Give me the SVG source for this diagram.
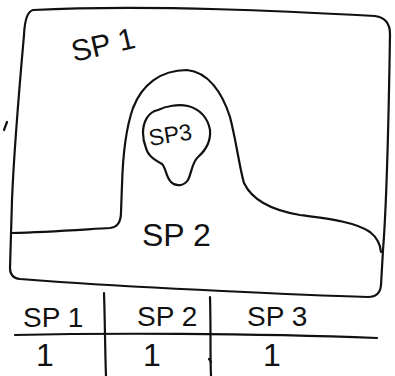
<svg xmlns="http://www.w3.org/2000/svg" width="395" height="376" viewBox="0 0 395 376">
  <style>
    .ink { fill: none; stroke: #111; stroke-width: 2.2; stroke-linecap: round; stroke-linejoin: round; }
    .hand { font-family: "Liberation Sans", "DejaVu Sans", sans-serif; fill: #111; }
  </style>
  <rect width="395" height="376" fill="#fff"/>

  <!-- outer region SP 1 -->
  <g id="sp1">
    <path class="ink" d="M 33,10 C 150,4 300,12 375,16 Q 390,18 390,34 C 389,100 387,200 383,250 L 381,285 Q 380,297 368,297 C 300,295 150,288 60,282 L 20,279 Q 10,278 10,268 L 12,200 C 14,150 20,80 24,35 Q 25,12 33,10 Z"/>
    <text class="hand" x="74" y="62" font-size="30" transform="rotate(-13 74 62)">SP 1</text>
  </g>

  <!-- mountain-shaped region SP 2 -->
  <g id="sp2">
    <path class="ink" d="M 12,233 C 50,232 90,229 110,228 Q 121,227 121,212 L 122,185 C 123,150 127,125 133,108 C 142,85 160,70 187,70 C 208,72 222,92 230,117 C 236,140 240,170 244,183 C 252,200 270,210 300,215 C 330,219 355,222 370,232 Q 380,240 381,252"/>
    <text class="hand" x="142" y="246" font-size="32">SP 2</text>
  </g>

  <!-- drop-shaped region SP 3 -->
  <g id="sp3">
    <path class="ink" d="M 143,133 C 143,122 148,112 158,110 C 166,106 178,104 188,106 C 200,109 208,118 210,130 C 211,142 206,150 198,157 C 192,162 192,172 188,180 C 184,186 176,187 171,182 C 166,177 166,168 162,164 C 155,160 148,156 146,148 C 144,143 143,138 143,133 Z"/>
    <text class="hand" x="150" y="146" font-size="23" transform="rotate(-9 150 146)">SP3</text>
  </g>

  <!-- count table -->
  <g id="table">
    <path class="ink" d="M 15,335 C 100,333 250,333 377,338"/>
    <path class="ink" d="M 104,293 C 105,320 105,350 106,376"/>
    <path class="ink" d="M 210,297 C 211,330 210,355 211,376"/>
    <path class="ink" d="M 209,359 L 211,362"/>
    <text class="hand" x="23" y="327" font-size="28">SP 1</text>
    <text class="hand" x="137" y="326" font-size="28">SP 2</text>
    <text class="hand" x="247" y="326" font-size="28">SP 3</text>
    <text class="hand" x="36" y="366" font-size="32">1</text>
    <text class="hand" x="143" y="366" font-size="32">1</text>
    <text class="hand" x="263" y="366" font-size="32">1</text>
  </g>

  <!-- stray pen mark -->
  <path class="ink" d="M 7,122 L 4,130"/>
</svg>
